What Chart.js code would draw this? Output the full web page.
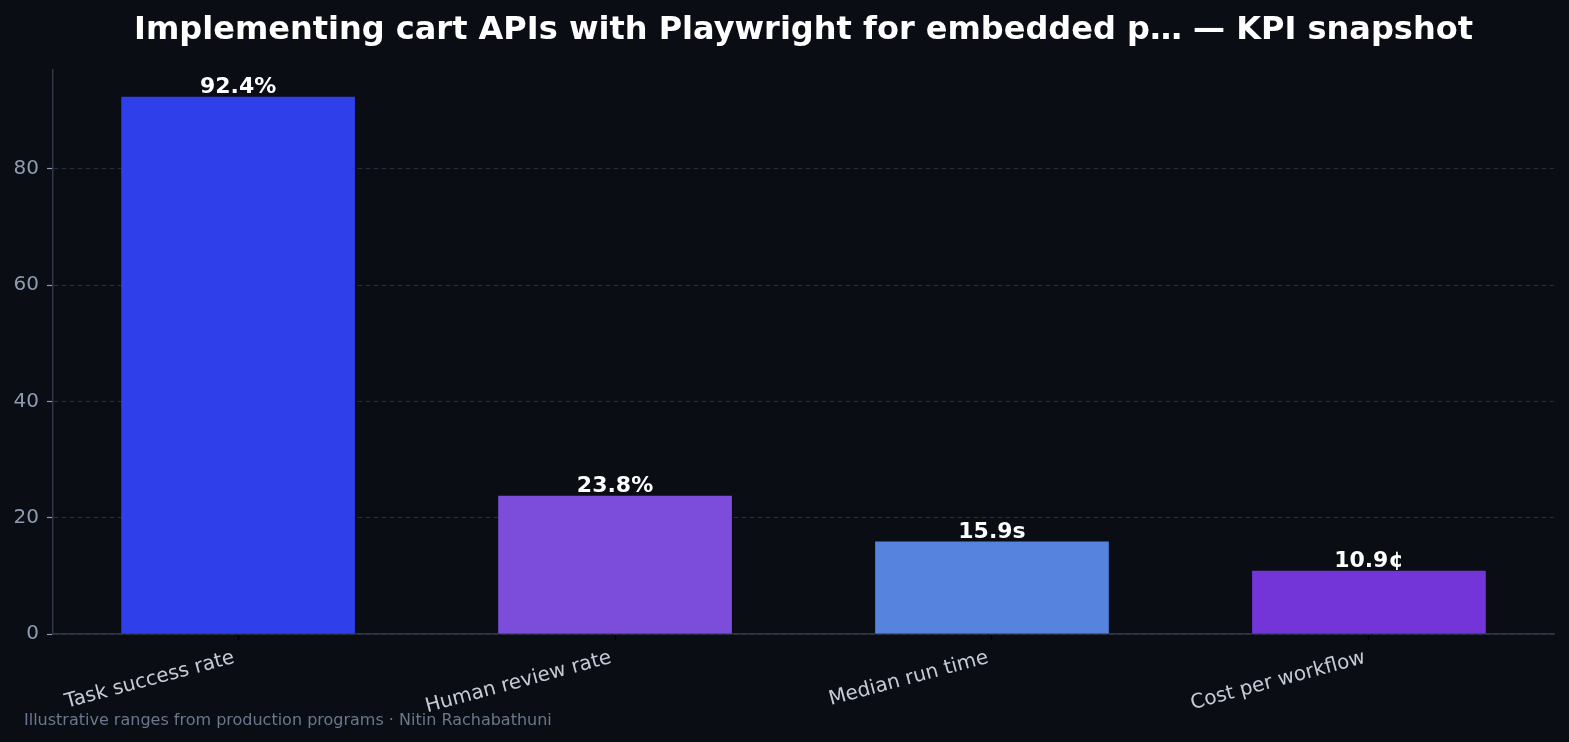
<!DOCTYPE html>
<html>
<head>
<meta charset="utf-8">
<script src="https://cdn.jsdelivr.net/npm/chart.js@4.4.1/dist/chart.umd.min.js"></script>
<style>
  html, body { margin: 0; padding: 0; background: #0a0d14; }
  #wrap { width: 1569px; height: 742px; }
</style>
</head>
<body>
<div id="wrap"><canvas id="kpiChart" width="1569" height="742"></canvas></div>
<script>
const categories = ['Task success rate', 'Human review rate', 'Median run time', 'Cost per workflow'];
const values = [92.4, 23.8, 15.9, 10.9];
const valueLabels = ['92.4%', '23.8%', '15.9s', '10.9¢'];
const barColors = ['#2f40ea', '#7c4ddb', '#5683de', '#7435d8'];
const yTicks = [0, 20, 40, 60, 80];

const titleText = 'Implementing cart APIs with Playwright for embedded p\u2026 \u2014 KPI snapshot';
const footerText = 'Illustrative ranges from production programs \u00b7 Nitin Rachabathuni';
const FONT = '"DejaVu Sans", sans-serif';

// title over the plot area, footer bottom-left, value labels on bars
const decorPlugin = {
  id: 'decor',
  beforeDraw(chart) {
    const ctx = chart.ctx;
    ctx.save();
    ctx.fillStyle = '#0a0d14';
    ctx.fillRect(0, 0, chart.width, chart.height);
    ctx.restore();
  },
  afterDatasetsDraw(chart) {
    const ctx = chart.ctx;
    const area = chart.chartArea;
    ctx.save();
    ctx.fillStyle = '#ffffff';
    ctx.font = 'bold 32px ' + FONT;
    ctx.textAlign = 'center';
    ctx.textBaseline = 'alphabetic';
    ctx.fillText(titleText, (area.left + area.right) / 2, 39);

    ctx.font = 'bold 22px ' + FONT;
    chart.getDatasetMeta(0).data.forEach((bar, i) => {
      ctx.fillText(valueLabels[i], bar.x, bar.y - 4);
    });

    ctx.font = '16px ' + FONT;
    ctx.fillStyle = '#6b778c';
    ctx.textAlign = 'left';
    ctx.fillText(footerText, 24, 725);
    ctx.restore();
  }
};

new Chart(document.getElementById('kpiChart'), {
  type: 'bar',
  data: {
    datasets: [{
      data: values.map((v, i) => ({ x: i, y: v })),
      backgroundColor: barColors,
      borderWidth: 0,
      barPercentage: 0.62,
      categoryPercentage: 1.0
    }]
  },
  options: {
    responsive: false,
    animation: false,
    layout: { padding: { top: 70, right: 15, left: 0, bottom: 0 } },
    plugins: {
      legend: { display: false },
      title: { display: false },
      tooltip: { enabled: false }
    },
    scales: {
      x: {
        type: 'linear',
        offset: false,
        min: -0.491,
        max: 3.491,
        afterBuildTicks: (scale) => { scale.ticks = categories.map((c, i) => ({ value: i })); },
        afterFit: (scale) => { scale.height = 108; },
        ticks: {
          callback: (v) => categories[v],
          autoSkip: false,
          minRotation: 15,
          maxRotation: 15,
          padding: 6,
          labelOffset: -4,
          color: '#c5cbd6',
          font: { family: FONT, size: 20 }
        },
        grid: {
          offset: false,
          drawOnChartArea: false,
          drawTicks: true,
          tickLength: 6,
          tickColor: '#000000',
          tickWidth: 1.5
        },
        border: { display: true, color: '#2e3647', width: 1.5 }
      },
      y: {
        min: 0,
        max: 97.02,
        afterBuildTicks: (scale) => { scale.ticks = yTicks.map(v => ({ value: v })); },
        afterFit: (scale) => { scale.width = 53; },
        ticks: {
          color: '#8f9bb0',
          padding: 8,
          font: { family: FONT, size: 20 }
        },
        grid: {
          color: '#262d3d',
          lineWidth: 1,
          drawTicks: true,
          tickLength: 6,
          tickColor: '#8f9bb0',
          tickBorderDash: [],
          tickWidth: 1.2
        },
        border: { display: true, color: '#2e3647', width: 1.5, dash: [5, 3] }
      }
    }
  },
  plugins: [decorPlugin]
});
</script>
</body>
</html>
